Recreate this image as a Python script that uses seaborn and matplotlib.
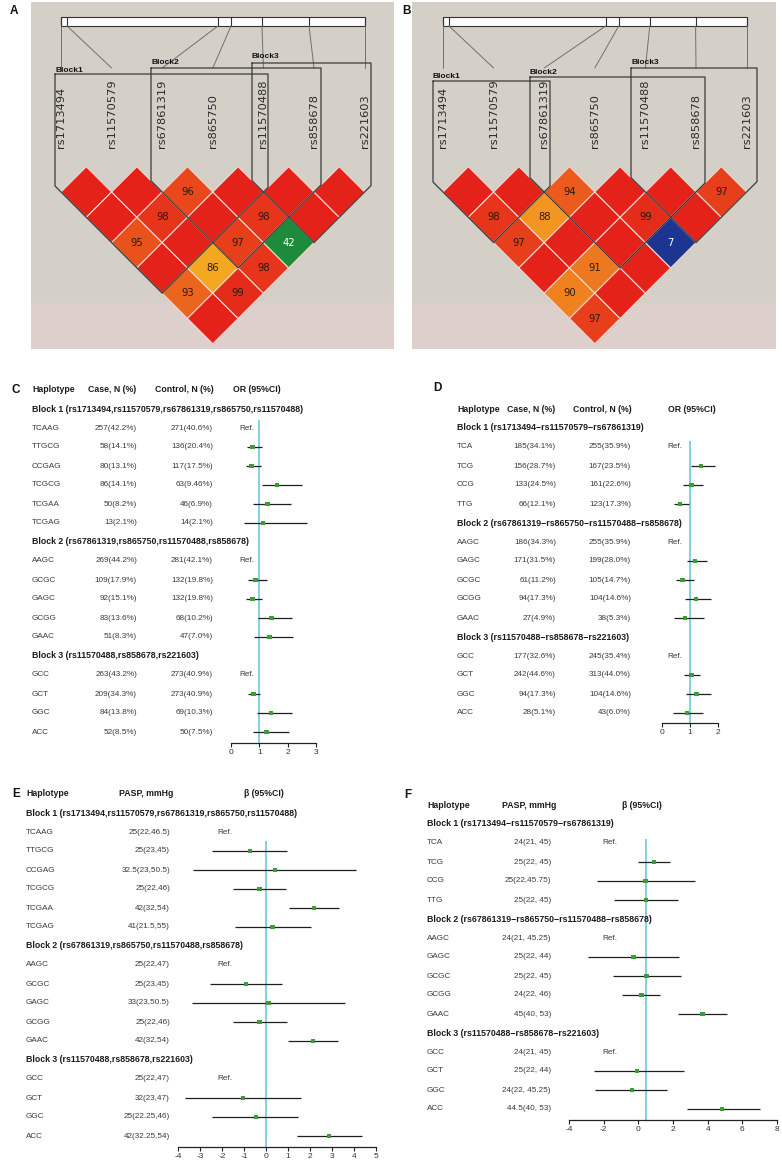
import numpy as np
import pandas as pd
import seaborn as sns
import matplotlib
matplotlib.use('Agg')
import matplotlib.pyplot as plt
from matplotlib import transforms
from matplotlib.patches import Polygon, Rectangle

W, H = 782, 1163

# ---------------- LD blocks (A, B) ----------------
snps = ['rs1713494', 'rs11570579', 'rs67861319', 'rs865750',
        'rs11570488', 'rs858678', 'rs221603']
bar_pos_a = [0.0, 0.02, 0.517, 0.56, 0.662, 0.817, 1.0]
bar_pos_b = [0.0, 0.02, 0.536, 0.579, 0.681, 0.832, 1.0]
# D' (x100); row i holds pairs (i, i+1), (i, i+2), ...
ld_a = [[100, 100, 95, 100, 93, 100],
        [100, 98, 100, 86, 99],
        [96, 100, 97, 98],
        [100, 98, 42],
        [100, 100],
        [100]]
ld_b = [[100, 98, 97, 100, 90, 97],
        [100, 88, 100, 91, 100],
        [94, 100, 100, 100],
        [100, 99, 7],
        [100, 100],
        [97]]
blocks_a = [(0, 4), (2, 5), (4, 6)]
blocks_b = [(0, 2), (2, 5), (4, 6)]

# ---------------- haplotype tables ----------------
titles_comma = ['Block 1 (rs1713494,rs11570579,rs67861319,rs865750,rs11570488)',
                'Block 2 (rs67861319,rs865750,rs11570488,rs858678)',
                'Block 3 (rs11570488,rs858678,rs221603)']
titles_dash = ['Block 1 (rs1713494\u2212rs11570579\u2212rs67861319)',
               'Block 2 (rs67861319\u2212rs865750\u2212rs11570488\u2212rs858678)',
               'Block 3 (rs11570488\u2212rs858678\u2212rs221603)']
sizes_ce = [6, 5, 4]
sizes_df = [4, 5, 4]

haps_c = ['TCAAG', 'TTGCG', 'CCGAG', 'TCGCG', 'TCGAA', 'TCGAG',
          'AAGC', 'GCGC', 'GAGC', 'GCGG', 'GAAC',
          'GCC', 'GCT', 'GGC', 'ACC']
case_c = ['257(42.2%)', '58(14.1%)', '80(13.1%)', '86(14.1%)', '50(8.2%)', '13(2.1%)',
          '269(44.2%)', '109(17.9%)', '92(15.1%)', '83(13.6%)', '51(8.3%)',
          '263(43.2%)', '209(34.3%)', '84(13.8%)', '52(8.5%)']
ctrl_c = ['271(40.6%)', '136(20.4%)', '117(17.5%)', '63(9.46%)', '46(6.9%)', '14(2.1%)',
          '281(42.1%)', '132(19.8%)', '132(19.8%)', '68(10.2%)', '47(7.0%)',
          '273(40.9%)', '273(40.9%)', '69(10.3%)', '50(7.5%)']
or_c = [None, 0.75, 0.73, 1.62, 1.29, 1.13, None, 0.87, 0.76, 1.43, 1.35, None, 0.79, 1.41, 1.26]
lo_c = [None, 0.55, 0.52, 1.08, 0.79, 0.47, None, 0.61, 0.52, 0.94, 0.82, None, 0.59, 0.92, 0.79]
hi_c = [None, 1.08, 1.06, 2.49, 2.11, 2.68, None, 1.26, 1.09, 2.15, 2.19, None, 1.02, 2.15, 2.05]

haps_d = ['TCA', 'TCG', 'CCG', 'TTG',
          'AAGC', 'GAGC', 'GCGC', 'GCGG', 'GAAC',
          'GCC', 'GCT', 'GGC', 'ACC']
case_d = ['185(34.1%)', '156(28.7%)', '133(24.5%)', '66(12.1%)',
          '186(34.3%)', '171(31.5%)', '61(11.2%)', '94(17.3%)', '27(4.9%)',
          '177(32.6%)', '242(44.6%)', '94(17.3%)', '28(5.1%)']
ctrl_d = ['255(35.9%)', '167(23.5%)', '161(22.6%)', '123(17.3%)',
          '255(35.9%)', '199(28.0%)', '105(14.7%)', '104(14.6%)', '38(5.3%)',
          '245(35.4%)', '313(44.0%)', '104(14.6%)', '43(6.0%)']
or_d = [None, 1.39, 1.06, 0.65, None, 1.18, 0.74, 1.21, 0.82, None, 1.06, 1.24, 0.90]
lo_d = [None, 1.04, 0.76, 0.45, None, 0.88, 0.49, 0.83, 0.43, None, 0.78, 0.86, 0.40]
hi_d = [None, 1.88, 1.47, 0.96, None, 1.61, 1.13, 1.74, 1.50, None, 1.35, 1.74, 1.46]

pasp_e = ['25(22,46.5)', '25(23,45)', '32.5(23,50.5)', '25(22,46)', '42(32,54)', '41(21.5,55)',
          '25(22,47)', '25(23,45)', '33(23,50.5)', '25(22,46)', '42(32,54)',
          '25(22,47)', '32(23,47)', '25(22.25,46)', '42(32.25,54)']
beta_e = [None, -0.73, 0.41, -0.30, 2.18, 0.30, None, -0.91, 0.11, -0.30, 2.14, None, -1.05, -0.45, 2.86]
lo_e = [None, -2.44, -3.30, -1.52, 1.06, -1.41, None, -2.55, -3.38, -1.52, 1.00, None, -3.70, -2.45, 1.41]
hi_e = [None, 0.94, 4.09, 0.89, 3.32, 2.05, None, 0.73, 3.61, 0.94, 3.27, None, 1.60, 1.45, 4.36]

pasp_f = ['24(21, 45)', '25(22, 45)', '25(22,45.75)', '25(22, 45)',
          '24(21, 45.25)', '25(22, 44)', '25(22, 45)', '24(22, 46)', '45(40, 53)',
          '24(21, 45)', '25(22, 44)', '24(22, 45.25)', '44.5(40, 53)']
beta_f = [None, 0.91, 0.43, 0.44, None, -0.29, 0.46, 0.17, 3.69, None, -0.08, -0.36, 4.83]
lo_f = [None, 0.00, -2.40, -1.40, None, -2.92, -1.46, -0.92, 2.31, None, -2.56, -2.50, 2.81]
hi_f = [None, 1.83, 3.27, 2.31, None, 2.33, 2.45, 1.25, 5.10, None, 2.64, 1.66, 7.02]

sns.set_style('white')
plt.rcParams['font.family'] = ['Liberation Sans', 'DejaVu Sans']
plt.rcParams['axes.unicode_minus'] = False

fig = plt.figure(figsize=(W / 100, H / 100), dpi=100)
px_tr = transforms.Affine2D().scale(1.0 / W, 1.0 / H) + fig.transFigure
UNIT = 50.6
ROW = 19


def ld_color(v):
    if v < 20:
        return '#1b3591'
    if v < 60:
        return '#1e8b3b'
    t = min(max((100 - v) / 14.0, 0), 1)
    return ((228 + 16 * t) / 255, (34 + 134 * t) / 255, (25 + 9 * t) / 255)


def draw_ld(rect, p0, ld, bar_pos, blocks, boxes):
    x0, y0, x1, y1 = rect
    vtop = 166.7
    ax = fig.add_axes([x0 / W, 1 - y1 / H, (x1 - x0) / W, (y1 - y0) / H])
    ax.set_xlim((x0 - p0) / UNIT, (x1 - p0) / UNIT)
    ax.set_ylim((y1 - vtop) / UNIT, (y0 - vtop) / UNIT)
    ax.axis('off')
    split = (y1 - 303) / (y1 - y0)
    ax.add_patch(Rectangle((0, 0), 1, 1, transform=ax.transAxes, fc='#d4d0c8', ec='none', zorder=0))
    ax.add_patch(Rectangle((0, 0), 1, split, transform=ax.transAxes, fc='#dccfcc', ec='none', zorder=0.5))
    for i, row in enumerate(ld):
        for k, v in enumerate(row):
            j = i + k + 1
            cu, cv = (i + j) / 2, (j - i) / 2
            ax.add_patch(Polygon([(cu, cv - 0.5), (cu + 0.5, cv), (cu, cv + 0.5), (cu - 0.5, cv)],
                                 closed=True, fc=ld_color(v), ec='#eed6cf', lw=0.8, zorder=2))
            if v < 100:
                ax.text(cu, cv, str(v), ha='center', va='center', fontsize=7.2,
                        family='DejaVu Sans', color='white' if v < 60 else '#2b1a12', zorder=3)
    # chromosome bar
    vb0, vb1 = (17 - vtop) / UNIT, (26 - vtop) / UNIT
    n = len(snps) - 1
    ax.add_patch(Rectangle((0, vb0), n, vb1 - vb0, fc='white', ec='#333333', lw=0.8, zorder=3))
    ax.vlines([n * p for p in bar_pos], vb0, vb1, color='#333333', lw=0.8, zorder=3)
    vend = (68 - vtop) / UNIT
    for i, p in enumerate(bar_pos):
        ax.plot([n * p, i], [vb1, vend], color='#707070', lw=0.7, zorder=3)
    for i, s in enumerate(snps):
        ax.text(i, (148 - vtop) / UNIT, s, rotation=90, ha='center', va='bottom',
                fontsize=8.2, family='DejaVu Sans', color='#2a2a2a', zorder=3)
    for bi, ((a, b), (lp, rp, tp, ly)) in enumerate(zip(blocks, boxes)):
        L, R, T = (lp - p0) / UNIT, (rp - p0) / UNIT, (tp - vtop) / UNIT
        bu, bv = (a + b) / 2, (b - a) / 2 + 0.5
        ax.plot([L, L, bu, R, R, L], [T, 0.5 - a + L, bv, b + 0.5 - R, T, T],
                color='#3a3a3a', lw=0.9, zorder=4)
        ax.text(L, (ly - vtop) / UNIT, 'Block%d' % (bi + 1), ha='left', va='center',
                fontsize=6, fontweight='bold', color='#111111', zorder=4)


draw_ld((31, 2, 394, 349), 61, ld_a, bar_pos_a, blocks_a,
        [(55, 268, 74, 70), (151, 321, 68, 63), (252, 371, 63, 57)])
draw_ld((412, 2, 776, 349), 443, ld_b, bar_pos_b, blocks_b,
        [(433, 550, 81, 76), (530, 705, 77, 72), (631, 757, 68, 62)])


def draw_forest(y0, y_axis, line_top, hap_x, heads, titles, sizes, haps, cols, col_x,
                est, lo, hi, ref_x, ticks, tick_px, ref_val):
    ax = fig.add_axes([tick_px[0] / W, 1 - y_axis / H, (tick_px[1] - tick_px[0]) / W, (y_axis - y0) / H])
    tr = transforms.blended_transform_factory(px_tr, ax.transData)
    rows, k = [], 1
    for title, n in zip(titles, sizes):
        ax.text(hap_x, k, title, transform=tr, ha='left', va='center',
                fontsize=6.3, fontweight='bold', color='#1a1a1a')
        k += 1
        for _ in range(n):
            rows.append(k)
            k += 1
    for txt, x in heads:
        ax.text(x, 0, txt, transform=tr, ha='left', va='center',
                fontsize=6.3, fontweight='bold', color='#1a1a1a')
    for r, h in zip(rows, haps):
        ax.text(hap_x, r, h, transform=tr, ha='left', va='center', fontsize=5.9, color='#3a3a3a')
    for vals, x in zip(cols, col_x):
        for r, s in zip(rows, vals):
            ax.text(x, r, s, transform=tr, ha='right', va='center', fontsize=5.9, color='#3a3a3a')
    df = pd.DataFrame({'row': rows, 'est': est, 'lo': lo, 'hi': hi})
    for r in df.loc[df['est'].isna(), 'row']:
        ax.text(ref_x, r, 'Ref.', transform=tr, ha='left', va='center', fontsize=5.9, color='#3a3a3a')
    df = df.dropna()
    ax.vlines(ref_val, (line_top - y0) / ROW, (y_axis - y0) / ROW, color='#62c3d6', lw=1.1, zorder=1)
    ax.hlines(df['row'], df['lo'], df['hi'], color='#1e1e1e', lw=0.9, zorder=2, clip_on=False)
    sns.scatterplot(data=df, x='est', y='row', marker='s', s=11, color='#3f9a3a',
                    edgecolor='none', legend=False, zorder=3, clip_on=False, ax=ax)
    ax.set_xlim(ticks[0], ticks[-1])
    ax.set_ylim((y_axis - y0) / ROW, 0)
    ax.set_xticks(ticks)
    ax.set_xticklabels([str(t) for t in ticks])
    ax.set_yticks([])
    ax.set_xlabel('')
    ax.set_ylabel('')
    ax.set_facecolor('none')
    for s in ['top', 'left', 'right']:
        ax.spines[s].set_visible(False)
    ax.spines['bottom'].set_bounds(ticks[0], ticks[-1])
    ax.spines['bottom'].set_color('#222222')
    ax.spines['bottom'].set_linewidth(0.9)
    ax.tick_params(axis='x', direction='out', length=3, width=0.8, color='#222222',
                   labelsize=6, labelcolor='#333333', pad=1.5, bottom=True)


draw_forest(390, 743, 420, 32,
            [('Haplotype', 32), ('Case, N (%)', 88), ('Control, N (%)', 155), ('OR (95%CI)', 233)],
            titles_comma, sizes_ce, haps_c, [case_c, ctrl_c], [137, 213],
            or_c, lo_c, hi_c, 239, [0, 1, 2, 3], (231, 316), 1)
draw_forest(409, 723, 441, 457,
            [('Haplotype', 457), ('Case, N (%)', 507), ('Control, N (%)', 573), ('OR (95%CI)', 668)],
            titles_dash, sizes_df, haps_d, [case_d, ctrl_d], [556, 631],
            or_d, lo_d, hi_d, 667, [0, 1, 2], (661.7, 718.3), 1)
draw_forest(794, 1147, 841, 26,
            [('Haplotype', 26), ('PASP, mmHg', 119), ('\u03b2 (95%CI)', 244)],
            titles_comma, sizes_ce, haps_c, [pasp_e], [170],
            beta_e, lo_e, hi_e, 217, list(range(-4, 6)), (178, 376), 0)
draw_forest(805, 1120, 839, 427,
            [('Haplotype', 427), ('PASP, mmHg', 502), ('\u03b2 (95%CI)', 622)],
            titles_dash, sizes_df, haps_d, [pasp_f], [551],
            beta_f, lo_f, hi_f, 602, list(range(-4, 9, 2)), (569, 777), 0.44)

for lab, x, y in [('A', 10, 11), ('B', 402, 11), ('C', 12, 390), ('D', 433, 388),
                  ('E', 12, 794), ('F', 404, 795)]:
    fig.text(x / W, 1 - y / H, lab, ha='left', va='center', fontsize=8.5,
             fontweight='bold', color='#111111')

fig.savefig('out.png', dpi=100)
